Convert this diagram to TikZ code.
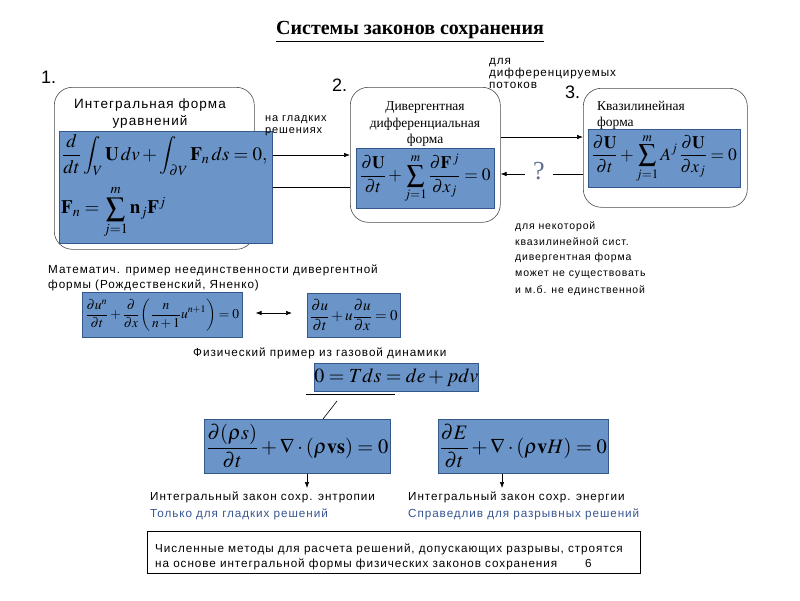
\documentclass[tikz,border=0pt]{standalone}
\usepackage{amsmath}
\usepackage{mathptmx}
\usepackage[no-math]{fontspec}
\setmainfont{Liberation Serif}
\newfontfamily\sansf[LetterSpace=8]{Liberation Sans}
\newfontfamily\sansn{Liberation Sans}
\newfontfamily\seriff{Liberation Serif}
\usetikzlibrary{arrows.meta}
\definecolor{boxblue}{RGB}{107,148,200}
\definecolor{boxedge}{RGB}{52,88,140}
\definecolor{notetext}{RGB}{55,85,145}
\definecolor{qcol}{RGB}{95,110,145}
\tikzset{
  rbox/.style={draw=black!70, line width=0.6pt, rounded corners=18pt, anchor=north west, inner sep=0pt},
  bbox/.style={draw=boxedge, fill=boxblue, line width=0.6pt, anchor=north west, inner sep=0pt},
  pbox/.style={draw=black, line width=0.8pt, anchor=north west, inner sep=0pt},
  lbl/.style={font=\sansf\fontsize{11.7}{13}\selectfont, inner sep=0pt, anchor=base west},
  slbl/.style={font=\seriff\fontsize{13.5}{15}\selectfont, inner sep=0pt, anchor=base},
  numlbl/.style={font=\sansn\fontsize{18}{20}\selectfont, inner sep=0pt, anchor=base west},
  fml/.style={inner sep=0pt},
  arr/.style={-{Latex[length=6pt,width=4.5pt]}, line width=0.6pt},
  plain/.style={line width=0.6pt},
}
\begin{document}
\begin{tikzpicture}[x=1pt,y=-1pt]
\useasboundingbox[fill=white] (0,0) rectangle (800,600);

% title
\node[inner sep=0pt, anchor=base, font=\seriff\bfseries\fontsize{20}{22}\selectfont] (title) at (410,34) {\underline{Системы законов сохранения}};

% numbers
\node[numlbl] (n1) at (41,83) {1.};
\node[numlbl] (n2) at (332,91) {2.};
\node[numlbl] (n3) at (565,98) {3.};

% box 1
\node[rbox, minimum width=200pt, minimum height=162pt] (b1) at (54,87) {};
\node[lbl, anchor=base, font=\sansf\fontsize{13.5}{15}\selectfont] (b1t1) at (150,108) {Интегральная форма};
\node[lbl, anchor=base, font=\sansf\fontsize{13.5}{15}\selectfont] (b1t2) at (150,125) {уравнений};
\node[bbox, minimum width=213pt, minimum height=112pt] (f1) at (59,131) {};
\node[fml, anchor=west] (f1a) at (62,155) {\fontsize{19}{22}\selectfont$\displaystyle \frac{d}{dt}\int_V \mathbf{U}\,dv+\int_{\partial V}\mathbf{F}_n\,ds=0,$};
\node[fml, anchor=west] (f1b) at (61,212) {\fontsize{19}{22}\selectfont$\displaystyle \mathbf{F}_n=\sum_{j=1}^{m}\mathbf{n}_j\mathbf{F}^j$};

% label between 1 and 2
\node[lbl, font=\sansf\fontsize{11}{12}\selectfont] (smooth1) at (265,121) {на гладких};
\node[lbl, font=\sansf\fontsize{11}{12}\selectfont] (smooth2) at (265,133) {решениях};

% box 2
\node[rbox, minimum width=150pt, minimum height=135pt] (b2) at (350,87) {};
\node[slbl] (b2t1) at (425,110) {Дивергентная};
\node[slbl] (b2t2) at (425,127) {дифференциальная};
\node[slbl] (b2t3) at (425,143) {форма};
\node[bbox, minimum width=138pt, minimum height=60pt] (f2) at (356,148) {};
\node[fml] (f2a) at (f2.center) {\fontsize{17.5}{20}\selectfont$\displaystyle \frac{\partial\mathbf{U}}{\partial t}+\sum_{j=1}^{m}\frac{\partial\mathbf{F}^{\,j}}{\partial x_j}=0$};

% label top right
\node[lbl] (diff1) at (489,64) {для};
\node[lbl] (diff2) at (489,76) {дифференцируемых};
\node[lbl] (diff3) at (489,88) {потоков};

% box 3
\node[rbox, minimum width=164pt, minimum height=119pt] (b3) at (583,88) {};
\node[slbl, anchor=base west] (b3t1) at (597,110) {Квазилинейная};
\node[slbl, anchor=base west] (b3t2) at (597,126) {форма};
\node[bbox, minimum width=152pt, minimum height=58pt] (f3) at (588,129) {};
\node[fml] (f3a) at (f3.center) {\fontsize{17.5}{20}\selectfont$\displaystyle \frac{\partial\mathbf{U}}{\partial t}+\sum_{j=1}^{m}A^{j}\,\frac{\partial\mathbf{U}}{\partial x_j}=0$};

% connectors top
\draw[arr] (f1.east |- 0,155) -- (b2.west |- 0,155);
\draw[plain] (f1.east |- 0,187) -- (b2.west |- 0,187);
\draw[arr] (b2.east |- 0,137) -- (b3.west |- 0,137);
\node[inner sep=0pt, text=qcol, font=\seriff\fontsize{26}{28}\selectfont] (q) at (539,171) {?};
\draw[plain] (b3.west |- 0,174) -- (553,174) coordinate (qr);
\draw[arr] (525,174) coordinate (ql) -- (b2.east |- 0,174);

% right note
\node[lbl, font=\sansf\fontsize{10.5}{12}\selectfont] (r1) at (515,229) {для некоторой};
\node[lbl, font=\sansf\fontsize{10.5}{12}\selectfont] (r2) at (515,245) {квазилинейной сист.};
\node[lbl, font=\sansf\fontsize{10.5}{12}\selectfont] (r3) at (515,260) {дивергентная форма};
\node[lbl, font=\sansf\fontsize{10.5}{12}\selectfont] (r4) at (515,276) {может не существовать};
\node[lbl, font=\sansf\fontsize{10.5}{12}\selectfont] (r5) at (515,293) {и м.б. не единственной};

% math example
\node[lbl] (m1t) at (48,273) {Математич. пример неединственности дивергентной};
\node[lbl] (m2t) at (48,288) {формы (Рождественский, Яненко)};
\node[bbox, minimum width=160pt, minimum height=45pt] (m1) at (82,292) {};
\node[fml] (m1a) at (m1.center) {\fontsize{13.5}{16}\selectfont$\displaystyle \frac{\partial u^{n}}{\partial t}+\frac{\partial}{\partial x}\left(\frac{n}{n+1}u^{n+1}\right)=0$};
\node[bbox, minimum width=93pt, minimum height=44pt] (m2) at (307,293) {};
\node[fml] (m2a) at (m2.center) {\fontsize{15}{17}\selectfont$\displaystyle \frac{\partial u}{\partial t}+u\frac{\partial u}{\partial x}=0$};
\draw[{Latex[length=6pt,width=4.5pt]}-{Latex[length=6pt,width=4.5pt]}, line width=0.6pt, shorten <=13pt, shorten >=15pt] (m1.east |- 0,313) -- (m2.west |- 0,313);

% physical example
\node[lbl] (pt) at (193,356) {Физический пример из газовой динамики};
\node[bbox, minimum width=164pt, minimum height=28pt] (g) at (314,363) {};
\node[fml] (ga) at (g.center) {\fontsize{20}{22}\selectfont$0=Tds=de+pdv$};
\draw[plain] (306,394) coordinate (hl) -- (395,394) coordinate (hr);
\node[bbox, minimum width=186pt, minimum height=54pt] (e1) at (204,419) {};
\node[fml] (e1a) at (e1.center) {\fontsize{20.5}{23}\selectfont$\displaystyle \frac{\partial(\rho s)}{\partial t}+\nabla\cdot(\rho\mathbf{vs})=0$};
\node[bbox, minimum width=170pt, minimum height=54pt] (e2) at (438,419) {};
\node[fml] (e2a) at (e2.center) {\fontsize{20.5}{23}\selectfont$\displaystyle \frac{\partial E}{\partial t}+\nabla\cdot(\rho\mathbf{v}H)=0$};
\draw[plain] (337,401) coordinate (dg) -- (e1.north -| 323,0);

\coordinate (a1) at (307,488);
\coordinate (a2) at (502,488);
\draw[arr] (e1.south -| a1) -- (a1);
\draw[arr] (e2.south -| a2) -- (a2);

\node[lbl] (s1) at (150,500) {Интегральный закон сохр. энтропии};
\node[lbl, text=notetext] (s2) at (150,517) {Только для гладких решений};
\node[lbl] (s3) at (408,500) {Интегральный закон сохр. энергии};
\node[lbl, text=notetext] (s4) at (408,517) {Справедлив для разрывных решений};

% bottom box
\node[pbox, minimum width=493pt, minimum height=42pt] (bb) at (147,531) {};
\node[lbl] (bb1) at (155,552) {Численные методы для расчета решений, допускающих разрывы, строятся};
\node[lbl] (bb2) at (155,567) {на основе интегральной формы физических законов сохранения};
\node[lbl] (pg) at (585,567) {6};
\end{tikzpicture}
\end{document}
